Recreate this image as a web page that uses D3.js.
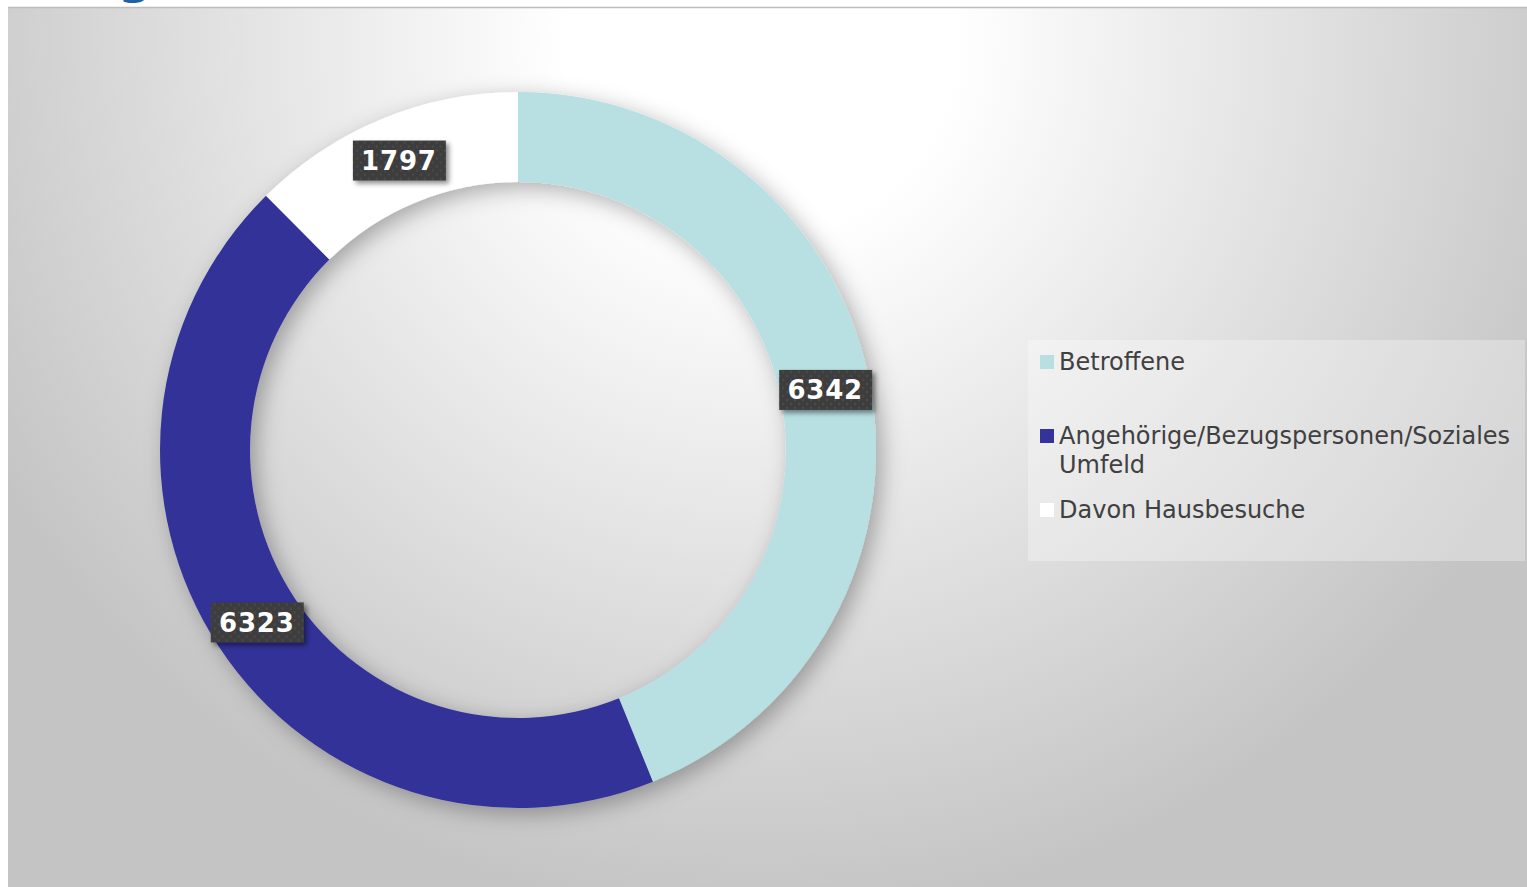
<!DOCTYPE html>
<html>
<head>
<meta charset="utf-8">
<script src="https://cdn.jsdelivr.net/npm/d3@7"></script>
<style>
  body { margin: 0; background: #fff; }
  svg { display: block; font-family: Verdana, "DejaVu Sans", sans-serif; }
</style>
</head>
<body>
<div id="chart"></div>
<script>
var categories = ['Betroffene', 'Angehörige/Bezugspersonen/Soziales Umfeld', 'Davon Hausbesuche']
var values = [6342, 6323, 1797]
var colors = ['#b8dfe2', '#333399', '#ffffff']

var chart_width = 1527
var chart_height = 887

var svg = d3.select('#chart')
    .append('svg')
    .attr('width', chart_width)
    .attr('height', chart_height)

var defs = svg.append('defs')

var bg = defs.append('radialGradient')
    .attr('id', 'bg')
    .attr('gradientUnits', 'userSpaceOnUse')
    .attr('cx', 760).attr('cy', 40).attr('r', 880)
bg.append('stop').attr('offset', 0).attr('stop-color', '#ffffff')
bg.append('stop').attr('offset', 0.22).attr('stop-color', '#ffffff')
bg.append('stop').attr('offset', 1).attr('stop-color', '#c4c4c4')

var ring_shadow = defs.append('filter').attr('id', 'ring_shadow')
    .attr('x', '-20%').attr('y', '-20%').attr('width', '140%').attr('height', '140%')
ring_shadow.append('feDropShadow')
    .attr('dx', 6).attr('dy', 6).attr('stdDeviation', 11)
    .attr('flood-color', '#000').attr('flood-opacity', 0.3)

var label_shadow = defs.append('filter').attr('id', 'label_shadow')
    .attr('x', '-30%').attr('y', '-30%').attr('width', '160%').attr('height', '160%')
label_shadow.append('feDropShadow')
    .attr('dx', 3).attr('dy', 3).attr('stdDeviation', 2.5)
    .attr('flood-color', '#000').attr('flood-opacity', 0.45)

var dots = defs.append('pattern')
    .attr('id', 'dots')
    .attr('patternUnits', 'userSpaceOnUse')
    .attr('width', 8).attr('height', 8)
dots.append('rect').attr('width', 8).attr('height', 8).attr('fill', '#3d3d3d')
dots.append('circle').attr('cx', 2).attr('cy', 2).attr('r', 1.2).attr('fill', '#4a4a4a')
dots.append('circle').attr('cx', 6).attr('cy', 6).attr('r', 1.2).attr('fill', '#4a4a4a')

// title remnant cut off at top
svg.append('text')
    .attr('x', 118).attr('y', -7)
    .attr('font-size', 48).attr('font-weight', 'bold')
    .attr('fill', '#1f5fa8')
    .text('g')

// chart area
svg.append('rect')
    .attr('x', 8).attr('y', 8)
    .attr('width', chart_width - 8).attr('height', chart_height - 8)
    .attr('fill', 'url(#bg)')
svg.append('line')
    .attr('x1', 8).attr('x2', chart_width)
    .attr('y1', 7.5).attr('y2', 7.5)
    .attr('stroke', '#bdbdbd').attr('stroke-width', 1.5)

// donut
var cx = 518, cy = 450
var outer_r = 358, inner_r = 268

var pie = d3.pie().sort(null).value(function (d) { return d })
var arcs = pie(values)

var arc = d3.arc().innerRadius(inner_r).outerRadius(outer_r)
var label_arc = d3.arc().innerRadius((inner_r + outer_r) / 2).outerRadius((inner_r + outer_r) / 2)

var g = svg.append('g').attr('transform', 'translate(' + cx + ',' + cy + ')')

g.append('g')
    .attr('filter', 'url(#ring_shadow)')
    .selectAll('path')
    .data(arcs)
    .enter()
    .append('path')
    .attr('d', arc)
    .attr('fill', function (d, i) { return colors[i] })

var labels = g.selectAll('.lbl')
    .data(arcs)
    .enter()
    .append('g')
    .attr('class', 'lbl')
    .attr('transform', function (d) {
        var c = label_arc.centroid(d)
        return 'translate(' + c[0] + ',' + c[1] + ')'
    })

labels.append('rect')
    .attr('x', -46).attr('y', -20)
    .attr('width', 93).attr('height', 40)
    .attr('fill', 'url(#dots)')
    .attr('filter', 'url(#label_shadow)')

labels.append('text')
    .attr('text-anchor', 'middle')
    .attr('dy', '0.36em')
    .attr('font-size', 26)
    .attr('font-weight', 'bold')
    .attr('letter-spacing', 0.8)
    .attr('fill', '#ffffff')
    .text(function (d) { return d.data })

// legend
var legend = svg.append('g')
legend.append('rect')
    .attr('x', 1028).attr('y', 340)
    .attr('width', 497).attr('height', 221)
    .attr('fill', '#ffffff').attr('fill-opacity', 0.3)

var legend_y = [362, 436, 510]
var legend_lines = [['Betroffene'], ['Angehörige/Bezugspersonen/Soziales', 'Umfeld'], ['Davon Hausbesuche']]

var items = legend.selectAll('.item')
    .data(categories)
    .enter()
    .append('g')
    .attr('class', 'item')
    .attr('transform', function (d, i) { return 'translate(1040,' + legend_y[i] + ')' })

items.append('rect')
    .attr('x', 0).attr('y', -7)
    .attr('width', 14).attr('height', 14)
    .attr('fill', function (d, i) { return colors[i] })

items.append('text')
    .attr('font-size', 24)
    .attr('fill', '#404040')
    .selectAll('tspan')
    .data(function (d, i) { return legend_lines[i] })
    .enter()
    .append('tspan')
    .attr('x', 19)
    .attr('y', function (d, j) { return 8 + j * 29 })
    .text(function (d) { return d })
</script>
</body>
</html>
